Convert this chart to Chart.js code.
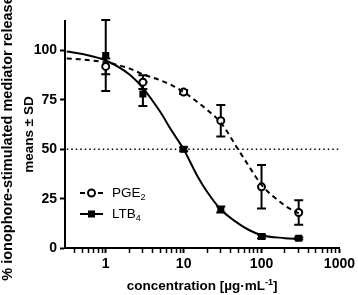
<!DOCTYPE html>
<html>
<head>
<meta charset="utf-8">
<script src="https://cdn.jsdelivr.net/npm/chart.js@4.4.1/dist/chart.umd.min.js"></script>
<style>
  html, body { margin: 0; padding: 0; background: #fff; }
</style>
</head>
<body>
<canvas id="doseChart" width="358" height="295"></canvas>
<script>
// Measured points (mean +- SD)
const concentrations = [1, 3, 10, 30, 100, 300];
const pgeMean = [92, 84, 79, 64.5, 31, 18];
const pgeSd = [4, 3.5, 1, 8, 11, 6.2];
const ltbMean = [97.5, 78, 50, 19.5, 5.8, 4.9];
const ltbSd = [18, 6, 1, 1.5, 1, 0.6];

// Fitted curves
const curveX = [0.316, 0.5, 1, 2, 3, 5, 7, 10, 15, 20, 30, 50, 70, 100, 200, 300];
const pgeCurve = [96, 95.5, 94, 91, 88, 85, 82.5, 79, 74, 70, 63.5, 50, 41, 32, 21.5, 17.5];
const ltbCurve = [99.6, 98.3, 95, 88, 81, 69, 59.5, 50, 36.5, 28.5, 19.5, 12.5, 9, 6.5, 5, 4.5];

// Axes
const xMin = 0.316;
const xMax = 1000;
const xTicks = [0.4, 0.5, 0.6, 0.7, 0.8, 0.9, 1, 2, 3, 4, 5, 6, 7, 8, 9, 10,
  20, 30, 40, 50, 60, 70, 80, 90, 100, 200, 300, 400, 500, 600, 700, 800, 900, 1000];
const xLabels = [1, 10, 100, 1000];
const yTicks = [0, 25, 50, 75, 100];
const halfLevel = 50;

const FONT = "'Liberation Sans', Arial, sans-serif";
Chart.defaults.font.family = FONT;
Chart.defaults.color = '#000';

// Error bars under the markers
const errorBars = {
  id: 'errorBars',
  beforeDatasetsDraw(chart) {
    const { ctx, scales: { x, y } } = chart;
    ctx.save();
    ctx.strokeStyle = '#000';
    ctx.lineWidth = 2;
    [[pgeMean, pgeSd], [ltbMean, ltbSd]].forEach(([m, s]) => {
      concentrations.forEach((c, i) => {
        const px = x.getPixelForValue(c);
        const top = y.getPixelForValue(m[i] + s[i]);
        const bot = y.getPixelForValue(m[i] - s[i]);
        ctx.beginPath();
        ctx.moveTo(px, top); ctx.lineTo(px, bot);
        ctx.moveTo(px - 4.5, top); ctx.lineTo(px + 4.5, top);
        ctx.moveTo(px - 4.5, bot); ctx.lineTo(px + 4.5, bot);
        ctx.stroke();
      });
    });
    ctx.restore();
  }
};

// Axis titles and legend with sub/superscripts
const labels = {
  id: 'labels',
  afterDraw(chart) {
    const { ctx, chartArea } = chart;
    ctx.save();
    ctx.fillStyle = '#000';

    // y title (two lines)
    const cy = (chartArea.top + chartArea.bottom) / 2;
    ctx.textAlign = 'center';
    ctx.textBaseline = 'middle';
    ctx.save();
    ctx.font = 'bold 14.5px ' + FONT;
    ctx.translate(8, cy + 4);
    ctx.rotate(-Math.PI / 2);
    ctx.fillText('% ionophore-stimulated mediator release', 0, 0);
    ctx.restore();
    ctx.save();
    ctx.font = 'bold 13.5px ' + FONT;
    ctx.translate(29, cy);
    ctx.rotate(-Math.PI / 2);
    ctx.fillText('means \u00b1 SD', 0, 0);
    ctx.restore();

    // x title
    const cx = (chartArea.left + chartArea.right) / 2;
    const main = 'concentration [\u00b5g\u00b7mL';
    const sup = '-1';
    const end = ']';
    ctx.textAlign = 'left';
    ctx.textBaseline = 'alphabetic';
    ctx.font = 'bold 13.5px ' + FONT;
    const w1 = ctx.measureText(main).width;
    const w3 = ctx.measureText(end).width;
    ctx.font = 'bold 9px ' + FONT;
    const w2 = ctx.measureText(sup).width;
    let tx = cx - (w1 + w2 + w3) / 2;
    const by = 290;
    ctx.font = 'bold 13.5px ' + FONT;
    ctx.fillText(main, tx, by);
    ctx.font = 'bold 9px ' + FONT;
    ctx.fillText(sup, tx + w1, by - 5);
    ctx.font = 'bold 13.5px ' + FONT;
    ctx.fillText(end, tx + w1 + w2, by);

    // legend
    const rows = [
      { y: 193, name: 'PGE', sub: '2', dash: [5, 4], marker: 'circle' },
      { y: 214, name: 'LTB', sub: '4', dash: [], marker: 'rect' }
    ];
    rows.forEach(r => {
      ctx.strokeStyle = '#000';
      ctx.lineWidth = 2;
      ctx.setLineDash(r.dash);
      ctx.beginPath();
      ctx.moveTo(80, r.y); ctx.lineTo(103, r.y);
      ctx.stroke();
      ctx.setLineDash([]);
      if (r.marker === 'circle') {
        ctx.beginPath();
        ctx.arc(91.5, r.y, 3.5, 0, Math.PI * 2);
        ctx.fillStyle = '#fff';
        ctx.fill();
        ctx.stroke();
      } else {
        ctx.fillStyle = '#000';
        ctx.fillRect(88, r.y - 3.5, 7, 7);
      }
      ctx.fillStyle = '#000';
      ctx.font = '13.5px ' + FONT;
      ctx.textBaseline = 'middle';
      ctx.fillText(r.name, 112, r.y);
      const nw = ctx.measureText(r.name).width;
      ctx.font = '9px ' + FONT;
      ctx.fillText(r.sub, 112 + nw, r.y + 5);
    });
    ctx.restore();
  }
};

const toPoints = (xs, ys) => xs.map((v, i) => ({ x: v, y: ys[i] }));

new Chart(document.getElementById('doseChart'), {
  type: 'scatter',
  data: {
    datasets: [
      {
        label: 'PGE2 fit',
        data: toPoints(curveX, pgeCurve),
        showLine: true,
        borderColor: '#000',
        borderWidth: 2,
        borderDash: [5, 4],
        pointRadius: 0,
        cubicInterpolationMode: 'monotone'
      },
      {
        label: 'LTB4 fit',
        data: toPoints(curveX, ltbCurve),
        showLine: true,
        borderColor: '#000',
        borderWidth: 2,
        pointRadius: 0,
        cubicInterpolationMode: 'monotone'
      },
      {
        label: '50 %',
        data: [{ x: xMin, y: halfLevel }, { x: xMax, y: halfLevel }],
        showLine: true,
        borderColor: '#000',
        borderWidth: 1.5,
        borderDash: [1.5, 3],
        pointRadius: 0
      },
      {
        label: 'PGE2',
        data: toPoints(concentrations, pgeMean),
        pointStyle: 'circle',
        pointRadius: 3.5,
        pointBackgroundColor: '#fff',
        pointBorderColor: '#000',
        pointBorderWidth: 2
      },
      {
        label: 'LTB4',
        data: toPoints(concentrations, ltbMean),
        pointStyle: 'rect',
        pointRadius: 5,
        pointBackgroundColor: '#000',
        pointBorderColor: '#000',
        pointBorderWidth: 0
      }
    ]
  },
  options: {
    responsive: false,
    animation: false,
    devicePixelRatio: 1,
    layout: { padding: { top: 21, right: 15, left: 0, bottom: 0 } },
    plugins: {
      legend: { display: false },
      tooltip: { enabled: false }
    },
    scales: {
      x: {
        type: 'logarithmic',
        min: xMin,
        max: xMax,
        afterBuildTicks: s => { s.ticks = xTicks.map(v => ({ value: v })); },
        afterFit: s => { s.height = 47; },
        ticks: {
          autoSkip: false,
          maxRotation: 0,
          padding: 3,
          color: '#000',
          font: { size: 14, weight: 'bold' },
          callback: v => xLabels.includes(v) ? String(v) : ''
        },
        grid: {
          drawOnChartArea: false,
          tickLength: 5,
          tickColor: '#000',
          tickWidth: c => xLabels.includes(c.tick.value) ? 2 : 1.5
        },
        border: { color: '#000', width: 2 }
      },
      y: {
        min: 0,
        max: 115,
        afterBuildTicks: s => { s.ticks = yTicks.map(v => ({ value: v })); },
        afterFit: s => { s.width = 65; },
        ticks: {
          padding: 3,
          color: '#000',
          font: { size: 14, weight: 'bold' }
        },
        grid: {
          drawOnChartArea: false,
          tickLength: 5,
          tickColor: '#000',
          tickWidth: 2
        },
        border: { color: '#000', width: 2 }
      }
    }
  },
  plugins: [errorBars, labels]
});
</script>
</body>
</html>
